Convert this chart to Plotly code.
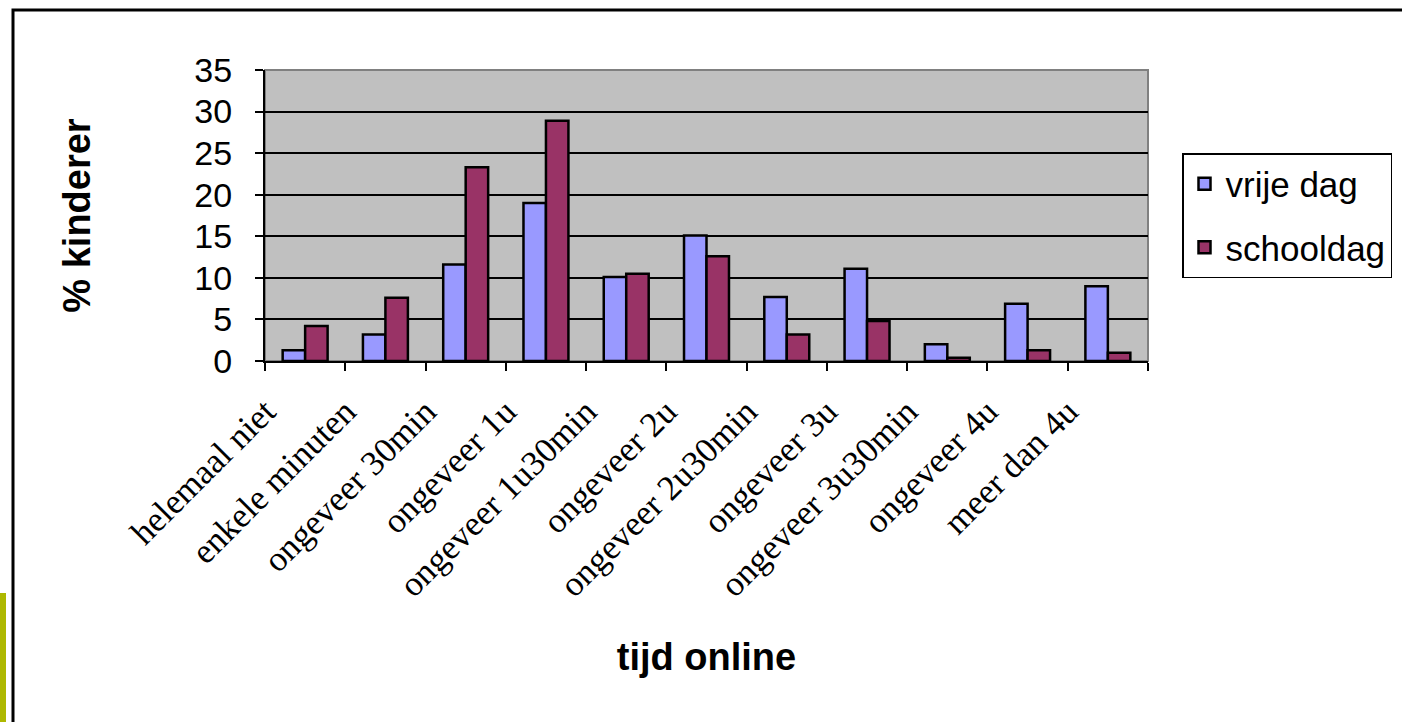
import plotly.graph_objects as go

categories = ["helemaal niet", "enkele minuten", "ongeveer 30min", "ongeveer 1u",
              "ongeveer 1u30min", "ongeveer 2u", "ongeveer 2u30min", "ongeveer 3u",
              "ongeveer 3u30min", "ongeveer 4u", "meer dan 4u"]
vrije_dag = [1.3, 3.2, 11.6, 19.0, 10.1, 15.1, 7.7, 11.1, 2.0, 6.9, 9.0]
schooldag = [4.2, 7.6, 23.3, 28.9, 10.5, 12.6, 3.2, 4.8, 0.4, 1.3, 1.0]
y_ticks = [0, 5, 10, 15, 20, 25, 30, 35]

W, H = 1402, 722
# plot area in page coordinates
L, R, T, B = 265, 1148, 70, 361
pw, ph = R - L, B - T

def px_x(x):
    return (x - L) / pw

def px_y(y):
    return (B - y) / ph

fig = go.Figure()
fig.add_trace(go.Bar(x=categories, y=vrije_dag, name="vrije dag", legendgroup="a",
                     marker=dict(color="#9999FF", line=dict(color="black", width=2.5))))
fig.add_trace(go.Bar(x=categories, y=schooldag, name="schooldag", legendgroup="b",
                     marker=dict(color="#993366", line=dict(color="black", width=2.5))))

fig.update_layout(
    width=W, height=H,
    margin=dict(l=L, r=W - R, t=T, b=H - B, autoexpand=False),
    paper_bgcolor="white", plot_bgcolor="#C0C0C0",
    barmode="group", bargap=0.44, bargroupgap=0,
    font=dict(family="Liberation Sans", color="black"),
    showlegend=True,
    legend=dict(x=px_x(1182), y=px_y(153), xanchor="left", yanchor="top",
                bgcolor="white", bordercolor="black", borderwidth=1.5,
                font=dict(family="Liberation Sans", size=35, color="black"),
                tracegroupgap=15, itemwidth=32),
    xaxis=dict(
        type="category", showgrid=False, tickson="boundaries", ticks="outside",
        ticklen=8, tickwidth=2, tickcolor="black",
        showline=True, linecolor="black", linewidth=2,
        tickangle=-45, ticklabelshift=-40, ticklabelstandoff=14,
        tickfont=dict(family="Liberation Serif", size=35, color="black"),
        title=dict(text="<b>tijd online</b>", font=dict(family="Liberation Sans", size=38),
                   standoff=40),
    ),
    yaxis=dict(
        range=[0, 35], tickvals=y_ticks, ticks="outside", ticklen=8, tickwidth=2,
        tickcolor="black", showline=True, linecolor="black", linewidth=2,
        showgrid=True, gridcolor="black", gridwidth=2, zeroline=False,
        ticklabelstandoff=16,
        tickfont=dict(family="Liberation Sans", size=34, color="black"),
        title=dict(text="<b>% kinderer</b>", font=dict(family="Liberation Sans", size=38),
                   standoff=92),
    ),
    shapes=[
        dict(type="rect", xref="paper", yref="paper", x0=0, x1=1, y0=0, y1=1,
             line=dict(color="#808080", width=2), layer="between"),
        dict(type="rect", xref="paper", yref="paper",
             x0=px_x(13), x1=px_x(1500), y0=px_y(800), y1=px_y(10),
             line=dict(color="black", width=3), layer="above"),
        dict(type="rect", xref="paper", yref="paper",
             x0=px_x(-5), x1=px_x(6), y0=px_y(740), y1=px_y(593),
             fillcolor="#AEB800", line=dict(width=0), layer="above"),
    ],
)

fig.write_html("out.html",
               config={"displayModeBar": False},
               post_script="document.body.style.margin='0';document.body.style.overflow='hidden';")
